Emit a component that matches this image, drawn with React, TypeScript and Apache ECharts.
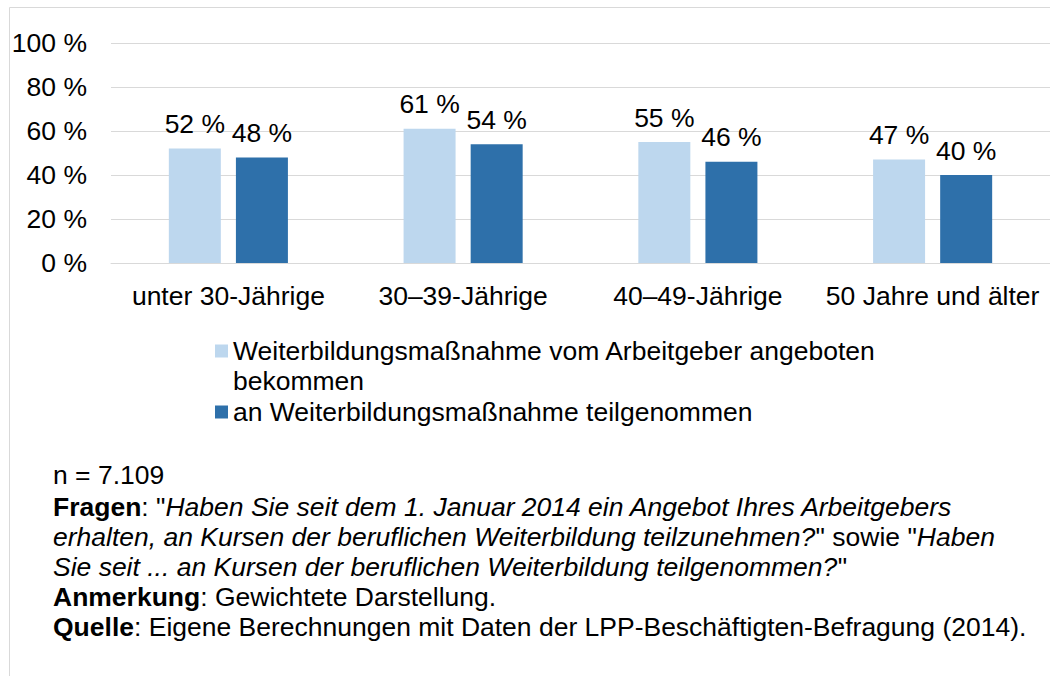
import React, { useEffect, useRef } from "react";
import * as echarts from "echarts";

const categories = ["unter 30-Jährige", "30–39-Jährige", "40–49-Jährige", "50 Jahre und älter"];
const seriesNames = [
  "Weiterbildungsmaßnahme vom Arbeitgeber angeboten bekommen",
  "an Weiterbildungsmaßnahme teilgenommen",
];
const offered = [52, 61, 55, 47];
const participated = [48, 54, 46, 40];
const yTicks = { min: 0, max: 100, interval: 20 };

const FONT = "'Liberation Sans', Arial, Helvetica, sans-serif";
const FS = 26.5;
const FOOT_FS = 25;

const footLines = [
  "n = 7.109",
  '{b|Fragen}: "{i|Haben Sie seit dem 1. Januar 2014 ein Angebot Ihres Arbeitgebers}',
  '{i|erhalten, an Kursen der beruflichen Weiterbildung teilzunehmen?}" sowie "{i|Haben}',
  '{i|Sie seit ... an Kursen der beruflichen Weiterbildung teilgenommen?}"',
  "{b|Anmerkung}: Gewichtete Darstellung.",
  "{b|Quelle}: Eigene Berechnungen mit Daten der LPP-Beschäftigten-Befragung (2014).",
];
const footY = [475, 507, 537, 567, 597, 627];

export default function App() {
  const ref = useRef<HTMLDivElement>(null);
  useEffect(() => {
    if (!ref.current) return;
    const chart = echarts.init(ref.current, null, { renderer: "svg" });
    const rich = {
      b: { fontWeight: "bold", fontSize: FOOT_FS, fontFamily: FONT, fill: "#000" },
      i: { fontStyle: "italic", fontSize: FOOT_FS, fontFamily: FONT, fill: "#000" },
    };
    const graphics: any[] = [
      {
        type: "line",
        shape: { x1: 9.5, y1: 7.5, x2: 1050, y2: 7.5 },
        style: { stroke: "#d9d9d9", lineWidth: 1 },
        silent: true,
      },
      {
        type: "line",
        shape: { x1: 9.5, y1: 7.5, x2: 9.5, y2: 676 },
        style: { stroke: "#d9d9d9", lineWidth: 1 },
        silent: true,
      },
    ];
    footLines.forEach((t, i) => {
      graphics.push({
        type: "text",
        x: 53,
        y: footY[i],
        scaleX: 1.06,
        style: {
          text: t,
          fontSize: FOOT_FS,
          fontFamily: FONT,
          fill: "#000",
          verticalAlign: "middle",
          align: "left",
          rich,
        },
      });
    });
    const labelCfg = {
      show: true,
      position: "top",
      distance: 11,
      color: "#000",
      fontSize: FS,
      fontFamily: FONT,
      formatter: "{c} %",
    };
    chart.setOption({
      animation: false,
      textStyle: { fontFamily: FONT },
      grid: { left: 111, right: -9, top: 43, bottom: 413, containLabel: false },
      xAxis: {
        type: "category",
        data: categories,
        axisTick: { show: false },
        axisLine: { lineStyle: { color: "#d9d9d9", width: 1 } },
        axisLabel: { color: "#000", fontSize: FS, fontFamily: FONT, margin: 19, interval: 0 },
      },
      yAxis: {
        type: "value",
        min: yTicks.min,
        max: yTicks.max,
        interval: yTicks.interval,
        axisLine: { show: false },
        axisTick: { show: false },
        splitLine: { lineStyle: { color: "#d9d9d9", width: 1 } },
        axisLabel: {
          color: "#000",
          fontSize: FS,
          fontFamily: FONT,
          margin: 24,
          formatter: "{value} %",
        },
      },
      legend: {
        orient: "vertical",
        left: 215,
        top: 306,
        padding: 0,
        itemGap: 1,
        itemWidth: 13,
        itemHeight: 13,
        icon: "rect",
        selectedMode: false,
        textStyle: { color: "#000", fontSize: FS, fontFamily: FONT, lineHeight: 30 },
        formatter: (name: string) =>
          name === seriesNames[0]
            ? " \nWeiterbildungsmaßnahme vom Arbeitgeber angeboten\nbekommen"
            : name,
        data: seriesNames,
      },
      series: [
        {
          name: seriesNames[0],
          type: "bar",
          data: offered,
          barWidth: 52,
          barGap: "29%",
          itemStyle: { color: "#bdd7ee" },
          label: labelCfg,
        },
        {
          name: seriesNames[1],
          type: "bar",
          data: participated,
          barWidth: 52,
          itemStyle: { color: "#2e70aa" },
          label: labelCfg,
        },
      ],
      graphic: graphics,
    });
    return () => chart.dispose();
  }, []);
  return (
    <div
      ref={ref}
      style={{ position: "fixed", left: 0, top: 0, width: 1050, height: 676, background: "#fff" }}
    />
  );
}
